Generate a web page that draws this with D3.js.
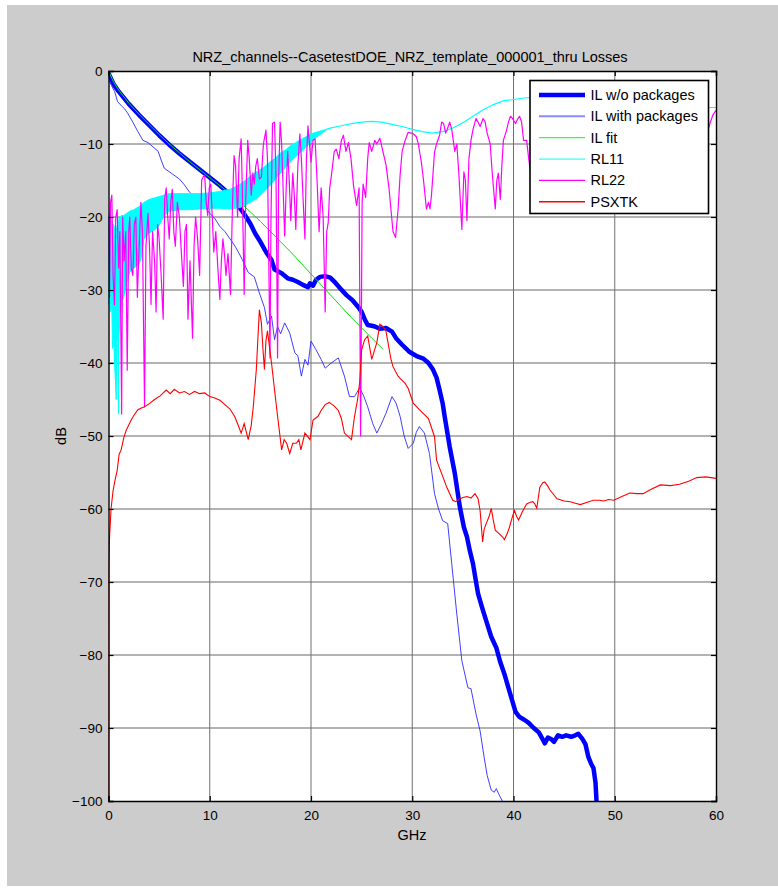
<!DOCTYPE html>
<html><head><meta charset="utf-8">
<script src="https://cdn.jsdelivr.net/npm/d3@7"></script>
<style>
body{margin:0;background:#fff;}
text{font-family:"Liberation Sans",Arial,sans-serif;fill:#000;}
</style></head>
<body><svg id="c" width="778" height="895"></svg>
<script>
// ---------- data ----------
const xTicks = [0,10,20,30,40,50,60];
const yTicks = [0,-10,-20,-30,-40,-50,-60,-70,-80,-90,-100];
const titleText = "NRZ_channels--CasetestDOE_NRZ_template_000001_thru Losses";
const seriesNames = ["IL w/o packages","IL with packages","IL fit","RL11","RL22","PSXTK"];

const ilWoPkg = [[0,-0.3],[0.5,-1.8],[1,-2.8],[2,-4.5],[3,-6],[4,-7.4],[5,-8.8],[6,-10.1],[7,-11.3],[8,-12.4],[9,-13.5],[10,-14.6],[11,-15.7],[12,-16.9],[12.5,-17.8],[13,-18.8],[13.5,-19.8],[14,-20.9],[14.5,-22.3],[15,-23.4],[15.6,-24.9],[16.1,-25.9],[16.4,-27.2],[17.1,-27.7],[17.7,-28.4],[18.2,-28.6],[18.7,-28.9],[19.2,-29.3],[19.7,-29.6],[19.9,-29.1],[20.2,-29.4],[20.5,-28.6],[20.9,-28.2],[21.4,-28.1],[21.9,-28.3],[22.4,-29],[22.9,-29.8],[23.5,-30.7],[24.1,-31.4],[24.7,-32.4],[25.0,-33],[25.3,-34],[25.6,-34.8],[26.0,-34.9],[26.3,-35],[26.8,-35.3],[27.4,-35.2],[28.0,-35.7],[28.4,-36.6],[29.0,-37.5],[29.75,-38.5],[30.5,-39.1],[31.1,-39.4],[31.6,-40],[32.05,-40.9],[32.4,-42],[32.7,-43.7],[33.0,-45.5],[33.2,-47.3],[33.7,-51.5],[34.2,-55.1],[34.7,-59.7],[35.1,-62.5],[35.4,-63.8],[35.7,-65.8],[36.0,-67.5],[36.3,-70],[36.5,-71.6],[36.9,-73.5],[37.3,-75.3],[37.8,-77.5],[38.3,-79],[38.7,-81],[39.1,-82.6],[39.5,-84.5],[39.8,-85.9],[40.2,-87.8],[40.6,-88.5],[41.1,-88.9],[41.5,-89.3],[42,-90],[42.5,-90.6],[42.9,-91.6],[43.1,-92.1],[43.4,-91.3],[43.7,-91.5],[44,-91.9],[44.4,-91],[44.8,-91.2],[45.2,-91],[45.7,-91.2],[46.1,-91],[46.4,-90.8],[46.8,-91.5],[47.1,-92.2],[47.4,-94],[47.7,-95],[47.9,-95.5],[48.1,-97.5],[48.2,-100]];

const ilWithPkg = [[0,-1.2],[0.3,-2],[0.6,-2.8],[0.9,-4.2],[1.3,-4.8],[1.6,-5.2],[1.9,-5.8],[2.4,-7],[2.9,-8.3],[3.4,-9.5],[3.9,-9.8],[4.4,-10.4],[4.9,-11],[5.2,-12.2],[5.5,-13.3],[6.2,-14],[6.6,-14.4],[7.0,-14.8],[7.5,-15.6],[8.0,-16.6],[8.5,-17.2],[9,-18],[9.5,-18.6],[10,-19.5],[10.5,-20.2],[11,-21.3],[11.5,-22],[12,-23],[12.5,-24],[12.9,-25],[13.2,-25.8],[13.8,-27.6],[14.4,-28.2],[14.9,-30.4],[15.4,-32.4],[15.7,-34.7],[16.1,-33.6],[16.4,-36.8],[16.7,-35],[17.0,-36],[17.4,-34.5],[17.9,-35.9],[18.4,-38.6],[18.7,-39],[19.05,-41.8],[19.4,-39.5],[19.7,-40.3],[20.0,-37],[20.5,-38.2],[21.0,-39.5],[21.4,-40.7],[22.0,-40],[22.7,-39.3],[23.3,-41.8],[23.8,-44.6],[24.3,-44.6],[24.8,-43.4],[25.2,-44.5],[25.6,-46],[26.1,-48.3],[26.5,-49.6],[26.9,-48.5],[27.4,-46.9],[28.0,-44.6],[28.4,-45.5],[28.8,-47.3],[29.2,-50],[29.6,-51.7],[30.1,-51],[30.4,-49.5],[30.7,-48.7],[31.2,-49.6],[31.7,-52.4],[32.2,-57.9],[32.6,-60],[33.0,-61.6],[33.5,-62],[33.9,-67.5],[34.4,-74.4],[34.9,-80.8],[35.5,-84.5],[35.8,-84.6],[36.3,-88.1],[36.7,-90.4],[37.1,-94],[37.4,-96.5],[37.8,-98.5],[38.1,-98.8],[38.3,-98.3],[38.6,-99.2],[38.9,-100]];

const ilFit = [[0,0],[0.5,-1.5],[1,-2.6],[2,-4.4],[3,-5.9],[4,-7.3],[5,-8.7],[6,-10],[7,-11.2],[8,-12.4],[9,-13.5],[10,-14.6],[11,-15.7],[12,-16.8],[13,-18],[14,-19.3],[15,-20.6],[16,-22],[17,-23.4],[18,-24.8],[19,-26.3],[20,-27.8],[21,-29.3],[22,-30.8],[23,-32.3],[24,-33.8],[25,-35.2],[26,-36.6],[27.1,-38.1]];

// RL11: noisy band [GHz, upper dB, lower dB] then smooth trace
const rl11Band = [[0,-20,-32],[0.1,-19.5,-28],[0.2,-20,-33],[0.3,-20.5,-30],[0.4,-21,-38],[0.5,-21,-36],[0.6,-21.5,-40],[0.7,-22,-43],[0.76,-22,-45],[0.82,-21.5,-37],[0.9,-21,-35],[0.99,-20.5,-47],[1.05,-20,-36],[1.15,-20,-33],[1.25,-19.8,-32],[1.5,-19.8,-31],[1.8,-19.5,-29],[2.1,-19.2,-27.5],[2.5,-19,-27],[3.0,-18.6,-26.5],[3.2,-18.4,-25.8],[3.5,-18,-23],[4.0,-17.6,-22.2],[4.5,-17.4,-21.8],[5.0,-17.2,-21.2],[5.5,-17,-19.8],[6,-16.8,-19.2],[7,-16.8,-19],[8,-16.8,-19],[9,-16.8,-18.9],[10,-16.7,-18.8],[11,-16.5,-18.8],[12,-16.2,-18.9],[12.5,-15.9,-18.8],[13,-15.5,-18.7],[13.5,-15,-18.4],[14,-14.4,-18],[14.5,-13.9,-17.6],[15,-13.5,-17],[15.5,-13,-16.3],[16,-12.4,-15.6],[16.5,-11.9,-14.8],[17,-11.2,-14],[17.5,-10.8,-13.2],[18,-10.2,-12.4],[18.5,-9.8,-11.7],[19,-9.4,-11.1],[19.5,-9.0,-10.4],[20,-8.6,-9.7],[20.5,-8.4,-9.1],[21,-8.2,-8.6],[21.5,-8.0,-8.1]];
const rl11Smooth = [[21.5,-8.0],[22,-7.8],[23,-7.5],[24,-7.2],[25,-7.0],[26,-6.9],[27,-7.0],[28,-7.3],[29,-7.6],[30,-8.0],[31,-8.3],[32,-8.5],[33,-8.3],[34,-7.8],[35,-7.1],[36,-6.2],[37,-5.3],[38,-4.6],[39,-4.1],[40,-3.9],[41,-3.7],[42,-3.6],[44,-3.6],[46,-3.8],[48,-4],[50,-4.3],[52,-4.5],[54,-4.7],[56,-4.9],[58,-5],[60,-5]];

const rl22 = [[0,-20],[0.1,-31],[0.2,-18],[0.33,-17],[0.45,-28],[0.59,-32],[0.72,-20],[0.86,-19],[1.0,-27],[1.12,-22],[1.3,-47],[1.4,-20],[1.55,-26],[1.7,-22],[1.85,-41],[2.0,-22],[2.1,-20],[2.25,-27],[2.4,-28],[2.55,-21],[2.7,-20],[2.85,-31],[3.0,-25],[3.2,-18],[3.35,-22],[3.56,-46],[3.7,-24],[3.9,-19.5],[4.05,-24],[4.2,-32],[4.35,-22],[4.55,-26],[4.7,-33],[4.85,-21],[5.0,-23],[5.2,-28],[5.4,-34],[5.55,-17.5],[5.7,-16],[5.85,-20],[6.0,-23],[6.15,-18],[6.3,-16.2],[6.45,-22],[6.6,-24],[6.8,-18],[7.0,-20],[7.2,-25],[7.4,-29.5],[7.55,-22],[7.7,-21],[7.85,-34],[8.05,-26],[8.3,-36.6],[8.45,-24],[8.6,-20],[8.8,-23],[9.0,-28],[9.2,-15],[9.35,-14.5],[9.5,-14.3],[9.65,-18],[9.8,-19.8],[9.95,-16],[10.1,-15.5],[10.25,-20],[10.4,-24.8],[10.6,-22],[10.8,-27],[11.0,-31.3],[11.15,-26],[11.3,-23],[11.45,-25],[11.6,-28],[11.8,-25],[12.05,-30.6],[12.25,-18],[12.4,-11.6],[12.55,-13],[12.75,-20],[12.9,-12],[13.1,-9.3],[13.2,-15],[13.4,-30.6],[13.55,-18],[13.75,-9.5],[13.9,-12],[14.1,-17],[14.25,-14],[14.4,-15.5],[14.55,-13],[14.7,-12],[14.9,-14.8],[15.1,-14.5],[15.3,-10],[15.55,-8.1],[15.7,-12],[15.95,-39.3],[16.05,-20],[16.2,-7.2],[16.4,-7],[16.55,-15],[16.7,-39.3],[16.8,-15],[16.95,-7],[17.1,-10],[17.4,-22.6],[17.55,-16],[17.7,-11],[17.85,-15],[18.0,-20.5],[18.2,-14],[18.35,-17],[18.5,-21.7],[18.7,-13],[18.9,-8.6],[19.05,-12],[19.2,-17],[19.4,-23],[19.55,-12],[19.7,-7.5],[19.85,-10],[20.0,-12.5],[20.2,-9.5],[20.4,-9.3],[20.6,-15],[20.8,-22],[21.0,-16],[21.2,-20],[21.4,-33],[21.55,-22],[21.7,-20.8],[21.85,-16],[22.0,-14.5],[22.3,-11],[22.5,-10.7],[22.75,-12],[23.0,-9.5],[23.2,-8.8],[23.45,-11],[23.7,-9.8],[23.95,-12],[24.2,-15.7],[24.5,-18.4],[24.75,-16],[24.9,-50],[25.05,-18],[25.15,-15.5],[25.4,-17.3],[25.6,-12],[25.75,-9.8],[26.0,-11],[26.3,-9.5],[26.5,-10],[26.8,-9.2],[27.1,-11],[27.4,-12.8],[27.7,-16],[27.9,-19],[28.1,-22],[28.35,-22.8],[28.6,-19],[28.8,-14.3],[29.0,-11],[29.3,-9.5],[29.6,-8.4],[29.9,-8.5],[30.1,-8.6],[30.4,-9],[30.6,-10],[30.9,-12.5],[31.1,-14.8],[31.4,-18.9],[31.6,-18],[31.75,-18.9],[31.9,-17],[32.2,-11.1],[32.4,-10],[32.7,-8.8],[32.9,-7],[33.1,-7.2],[33.3,-8.5],[33.45,-8],[33.7,-7],[33.9,-8],[34.2,-11],[34.4,-10],[34.6,-14],[34.9,-21.7],[35.1,-13.8],[35.25,-15],[35.4,-20.5],[35.6,-12],[35.8,-9.5],[36.0,-8],[36.3,-6.5],[36.5,-7],[36.7,-7.6],[37.0,-6.5],[37.2,-7],[37.4,-8.5],[37.7,-10],[37.9,-14],[38.2,-18.9],[38.35,-15],[38.5,-14],[38.7,-17.6],[38.85,-13],[39.0,-9.5],[39.3,-8.2],[39.5,-7],[39.7,-6.2],[39.9,-6.5],[40.2,-7.2],[40.4,-6.6],[40.6,-6.2],[40.8,-7],[41.0,-9.5],[41.3,-9.5],[41.5,-12],[41.7,-14],[42.2,-10],[43,-8],[44,-12],[45,-9],[46,-14],[47,-8],[48,-10],[49,-15],[50,-9],[51,-8],[52,-13],[53,-9],[54,-11],[55,-16],[56,-10],[57,-8],[58,-12],[58.8,-10],[59.4,-7.2],[59.7,-6],[60,-5.4]];

const psxtk = [[0,-100],[0.03,-68],[0.1,-64],[0.25,-60],[0.45,-57.5],[0.65,-56],[0.86,-54.7],[1.05,-52.5],[1.25,-51.9],[1.5,-50.3],[1.75,-49.2],[2.0,-48.5],[2.24,-47.8],[2.5,-47.2],[2.9,-46.4],[3.2,-46.2],[3.56,-46],[4,-45.6],[4.55,-45],[5.1,-44.5],[5.7,-43.7],[6.1,-44.2],[6.5,-43.6],[7.0,-44.1],[7.5,-43.9],[8.0,-44.3],[8.5,-43.9],[9.0,-44.2],[9.5,-44.1],[10,-44.6],[10.5,-44.8],[11,-45.1],[11.5,-45.7],[12,-46.3],[12.45,-47.3],[12.8,-48.5],[13.1,-49.6],[13.4,-48.3],[13.8,-50.5],[14.1,-48.5],[14.3,-46],[14.6,-40.9],[14.9,-32.7],[15.1,-34.5],[15.25,-38],[15.4,-40.9],[15.55,-37],[15.7,-35.6],[16.1,-40],[16.4,-43.7],[16.7,-47.3],[17.1,-51.9],[17.35,-50.5],[17.6,-51],[17.9,-52.4],[18.2,-51],[18.55,-51],[18.8,-50.5],[19.0,-51.9],[19.4,-49.6],[19.9,-50.5],[20.2,-47.8],[20.7,-47.3],[21.0,-46.5],[21.4,-45.7],[21.8,-45.4],[22.3,-45.9],[22.7,-46.5],[23.0,-47.6],[23.3,-49.6],[24.0,-50.5],[24.3,-47.3],[24.6,-45],[24.8,-42.8],[25.0,-38.2],[25.3,-36.8],[25.6,-36.3],[26.0,-39.5],[26.5,-37.2],[26.8,-34.7],[27.1,-35],[27.4,-35.6],[27.9,-39.5],[28.1,-40.5],[28.6,-41.8],[28.8,-42.1],[29.3,-42.8],[29.6,-43.5],[30.1,-45.5],[30.7,-46.4],[31.0,-46.8],[31.6,-47.6],[32.2,-50.1],[32.4,-53.3],[33.0,-55.5],[33.4,-57],[34.0,-58.8],[34.3,-59],[34.7,-58.6],[35.1,-58.4],[35.4,-58.3],[35.8,-58.5],[36.2,-57.9],[36.5,-58.6],[36.7,-60.2],[36.95,-64.5],[37.1,-62.8],[37.3,-62],[37.6,-61],[37.8,-59.9],[38.0,-61.5],[38.2,-62.9],[38.6,-63.4],[38.9,-63.8],[39.1,-64.2],[39.4,-63.3],[39.6,-62.5],[39.9,-61],[40.1,-60.2],[40.3,-61],[40.5,-61.5],[40.9,-60.3],[41.3,-59.3],[41.6,-59.1],[41.9,-59],[42.1,-59.3],[42.3,-59.9],[42.6,-57],[42.9,-56.4],[43.1,-56.3],[43.4,-56.9],[43.6,-57.4],[44.3,-58.6],[45,-58.9],[45.6,-59],[46.1,-59.2],[46.6,-59.4],[47.2,-59.1],[47.9,-58.8],[48.5,-58.8],[48.9,-58.9],[49.4,-58.7],[49.9,-58.8],[50.7,-58.3],[51.5,-57.8],[52.2,-57.9],[52.8,-57.9],[53.6,-57.3],[54.5,-56.7],[55.5,-56.8],[56.4,-56.6],[57.3,-56.2],[58.1,-55.7],[59,-55.6],[60,-55.8]];

// ---------- drawing ----------
const svg = d3.select("#c");
const X0 = 108.5, X1 = 716, Y0 = 71, Y1 = 801;
const x = d3.scaleLinear().domain([0,60]).range([X0,X1]);
const y = d3.scaleLinear().domain([-100,0]).range([Y1,Y0]);

svg.append("rect").attr("x",7).attr("y",5).attr("width",771).attr("height",881).attr("fill","#cccccc");
svg.append("rect").attr("x",X0).attr("y",Y0).attr("width",X1-X0).attr("height",Y1-Y0).attr("fill","#fff");

svg.append("defs").append("clipPath").attr("id","clip")
  .append("rect").attr("x",X0).attr("y",Y0).attr("width",X1-X0).attr("height",Y1-Y0);

// grid
const grid = svg.append("g");
grid.selectAll("line.h").data(yTicks.slice(1,-1)).join("line")
  .attr("x1",X0).attr("x2",X1).attr("y1",d=>y(d)).attr("y2",d=>y(d))
  .attr("stroke","#9a9a9a").attr("stroke-width",1.4);
grid.selectAll("line.v").data(xTicks.slice(1,-1)).join("line")
  .attr("y1",Y0).attr("y2",Y1).attr("x1",d=>x(d)).attr("x2",d=>x(d))
  .attr("stroke","#707070").attr("stroke-width",1);

const plot = svg.append("g").attr("clip-path","url(#clip)");
const line = d3.line().x(d=>x(d[0])).y(d=>y(d[1]));

const styles = [
  {data: ilWoPkg, color:"#0000ff", w:4.5},
  {data: ilWithPkg, color:"#2a2aff", w:0.9},
  {data: ilFit, color:"#00e000", w:1},
];
styles.forEach(s=>{
  plot.append("path").datum(s.data).attr("d",line).attr("fill","none")
    .attr("stroke",s.color).attr("stroke-width",s.w).attr("stroke-linejoin","round");
});
// RL11
const band = d3.area().x(d=>x(d[0])).y0(d=>y(d[2])).y1(d=>y(d[1]));
plot.append("path").datum(rl11Band).attr("d",band).attr("fill","#00ffff")
  .attr("stroke","#00ffff").attr("stroke-width",1);
plot.append("path").datum(rl11Smooth).attr("d",line).attr("fill","none")
  .attr("stroke","#00ffff").attr("stroke-width",1.2);
// RL22
plot.append("path").datum(rl22).attr("d",line).attr("fill","none")
  .attr("stroke","#ff00ff").attr("stroke-width",1.2).attr("stroke-linejoin","round");
// PSXTK
plot.append("path").datum(psxtk).attr("d",line).attr("fill","none")
  .attr("stroke","#ff0000").attr("stroke-width",1.1);

// axes
const fs = "13.5px";
const gB = svg.append("g").attr("transform",`translate(0,${Y1})`)
  .call(d3.axisBottom(x).tickValues(xTicks).tickSize(-5).tickPadding(9));
const gL = svg.append("g").attr("transform",`translate(${X0},0)`)
  .call(d3.axisLeft(y).tickValues(yTicks).tickSize(-5).tickPadding(6));
const gT = svg.append("g").attr("transform",`translate(0,${Y0})`)
  .call(d3.axisTop(x).tickValues(xTicks).tickSize(-5).tickFormat(""));
const gR = svg.append("g").attr("transform",`translate(${X1},0)`)
  .call(d3.axisRight(y).tickValues(yTicks).tickSize(-5).tickFormat(""));
[gB,gL,gT,gR].forEach(g=>{
  g.select(".domain").attr("stroke","#000").attr("stroke-width",1.4);
  g.selectAll(".tick line").attr("stroke","#000").attr("stroke-width",1.2);
  g.selectAll(".tick text").attr("font-size",fs).attr("fill","#000")
   .attr("font-family","'Liberation Sans',Arial,sans-serif");
});

// labels
svg.append("text").attr("x",410).attr("y",62).attr("text-anchor","middle")
  .attr("font-size","14.5px").text(titleText);
svg.append("text").attr("x",412).attr("y",840).attr("text-anchor","middle")
  .attr("font-size","14.5px").text("GHz");
svg.append("text").attr("transform","translate(66,436) rotate(-90)").attr("text-anchor","middle")
  .attr("font-size","14.5px").text("dB");

// legend
const legColors = ["#0000ff","#8a8aff","#33ff33","#33ffff","#ff00ff","#ff0000"];
const legWidths = [4.5,2,1.3,1.3,1.3,1.3];
const lg = svg.append("g");
lg.append("rect").attr("x",530).attr("y",80.5).attr("width",178.5).attr("height",133)
  .attr("fill","#fff").attr("stroke","#000").attr("stroke-width",1.6);
seriesNames.forEach((n,i)=>{
  const yy = 95 + i*21.35;
  lg.append("line").attr("x1",539).attr("x2",585).attr("y1",yy).attr("y2",yy)
    .attr("stroke",legColors[i]).attr("stroke-width",legWidths[i]);
  lg.append("text").attr("x",590.5).attr("y",yy+5).attr("font-size","14.5px").text(n);
});
</script></body></html>
